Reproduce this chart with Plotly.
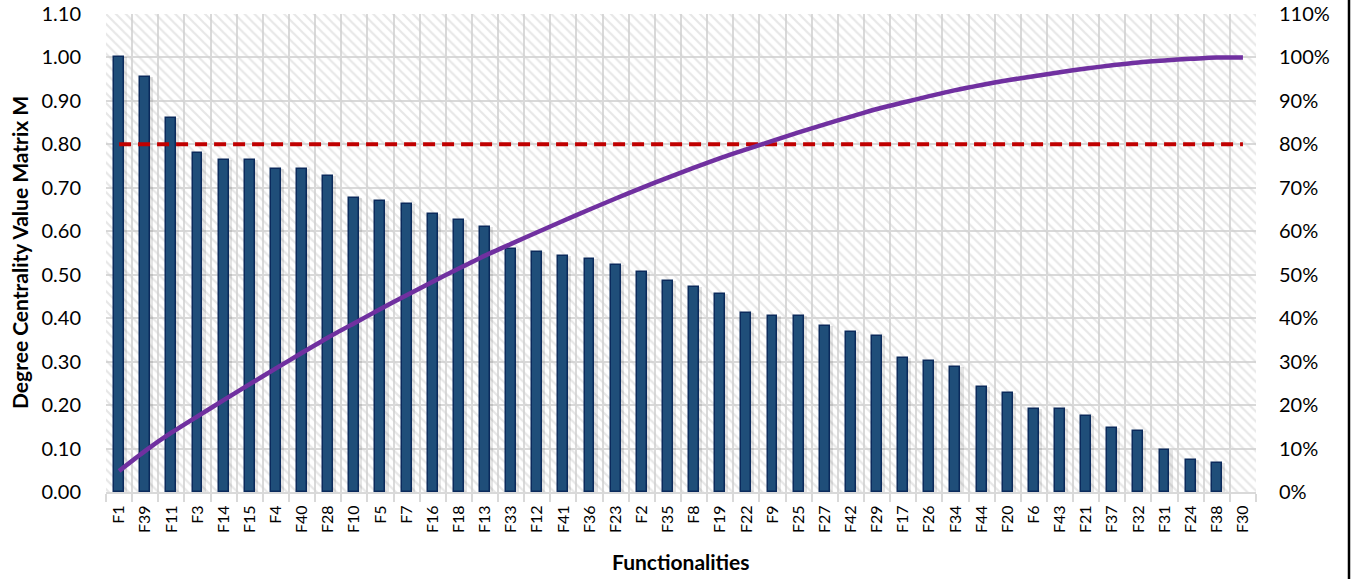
import plotly.graph_objects as go

categories = ["F1", "F39", "F11", "F3", "F14", "F15", "F4", "F40", "F28", "F10", "F5", "F7",
              "F16", "F18", "F13", "F33", "F12", "F41", "F36", "F23", "F2", "F35", "F8", "F19",
              "F22", "F9", "F25", "F27", "F42", "F29", "F17", "F26", "F34", "F44", "F20", "F6",
              "F43", "F21", "F37", "F32", "F31", "F24", "F38", "F30"]

centrality = [1.000, 0.955, 0.860, 0.780, 0.765, 0.765, 0.743, 0.743, 0.728, 0.676, 0.669, 0.662,
              0.640, 0.625, 0.610, 0.559, 0.552, 0.544, 0.537, 0.522, 0.507, 0.485, 0.471, 0.456,
              0.412, 0.404, 0.404, 0.382, 0.368, 0.360, 0.309, 0.301, 0.287, 0.242, 0.228, 0.191,
              0.191, 0.176, 0.147, 0.140, 0.096, 0.074, 0.066, 0.000]

cumulative_pct = [0.0485, 0.0948, 0.1364, 0.1742, 0.2113, 0.2484, 0.2844, 0.3204, 0.3557, 0.3885,
                  0.4209, 0.4530, 0.4840, 0.5143, 0.5439, 0.5710, 0.5977, 0.6241, 0.6501, 0.6754,
                  0.7000, 0.7235, 0.7463, 0.7684, 0.7884, 0.8080, 0.8276, 0.8461, 0.8639, 0.8814,
                  0.8963, 0.9109, 0.9248, 0.9366, 0.9476, 0.9569, 0.9661, 0.9747, 0.9818, 0.9886,
                  0.9932, 0.9968, 1.0000, 1.0000]

threshold = 0.80
y_ticks = [0.0, 0.1, 0.2, 0.3, 0.4, 0.5, 0.6, 0.7, 0.8, 0.9, 1.0, 1.1]

FONT = "Lato"
GRID = "#d9d9d9"

W, H = 1356, 579
ML, MR, MT, MB = 106, 100, 14, 87
PW, PH = W - ML - MR, H - MT - MB

fig = go.Figure()

# hatched plot-area background (transparent between the stripes so gridlines show)
fig.add_trace(go.Bar(
    x=[categories[0]], y=[y_ticks[-1]], width=[len(categories)], offset=-0.5,
    marker=dict(color="rgba(0,0,0,0)", line=dict(width=0),
                pattern=dict(shape="\\", size=7, solidity=0.32, fgcolor="#d0d0d0",
                             bgcolor="rgba(0,0,0,0)", fillmode="overlay")),
    hoverinfo="skip", showlegend=False,
))

# soft bar shadow
fig.add_trace(go.Bar(
    x=categories, y=centrality, width=0.5, offset=-0.19,
    marker=dict(color="rgba(0,0,0,0.10)", line=dict(width=0)),
    hoverinfo="skip", showlegend=False,
))

fig.add_trace(go.Bar(
    x=categories, y=centrality, width=0.38,
    marker=dict(color="#1f4e79",
                line=dict(color="#0b2a5c", width=[1.5 if v > 0 else 0 for v in centrality])),
    name="Degree centrality", showlegend=False,
))

fig.add_trace(go.Scatter(
    x=[categories[0], categories[-1]], y=[threshold, threshold], mode="lines",
    line=dict(color="#c00000", width=4, dash="12px,7px"),
    showlegend=False, hoverinfo="skip",
))

fig.add_trace(go.Scatter(
    x=categories, y=cumulative_pct, mode="lines", yaxis="y2",
    line=dict(color="#7030a0", width=4.5, shape="spline", smoothing=0.6),
    showlegend=False, name="Cumulative %",
))

fig.update_layout(
    width=W, height=H,
    margin=dict(l=ML, r=MR, t=MT, b=MB),
    paper_bgcolor="white", plot_bgcolor="white",
    barmode="overlay", bargap=0,
    font=dict(family=FONT, color="black"),
    xaxis=dict(
        type="category", categoryorder="array", categoryarray=categories,
        tickson="boundaries", ticks="outside", ticklen=8, tickcolor=GRID, tickwidth=2,
        showgrid=True, gridcolor=GRID, gridwidth=2,
        showline=True, linecolor=GRID, linewidth=2,
        tickangle=-90, tickfont=dict(size=16, family=FONT), ticklabelstandoff=5,
        range=[-0.5, len(categories) - 0.5], automargin=False,
    ),
    yaxis=dict(
        range=[0, 1.1], tickvals=y_ticks, tickformat=".2f",
        showgrid=True, gridcolor=GRID, gridwidth=2, zeroline=False,
        tickfont=dict(size=20, family=FONT), ticklabelstandoff=24, automargin=False,
        ticklabeloverflow="allow",
    ),
    yaxis2=dict(
        overlaying="y", side="right", range=[0, 1.1], tickvals=y_ticks, tickformat=".0%",
        showgrid=False, zeroline=False, tickfont=dict(size=20, family=FONT),
        ticklabelstandoff=22, automargin=False, ticklabeloverflow="allow",
    ),
    annotations=[
        dict(text="<b>Degree Centrality Value Matrix M</b>", xref="paper", yref="paper",
             x=(19 - ML) / PW, y=0.5, xanchor="center", yanchor="middle", textangle=-90,
             showarrow=False, font=dict(size=21, family=FONT)),
        dict(text="<b>Functionalities</b>", xref="paper", yref="paper",
             x=0.5, y=(492 - 561) / PH, xanchor="center", yanchor="middle",
             showarrow=False, font=dict(size=21, family=FONT)),
    ],
    shapes=[dict(type="line", xref="paper", yref="paper",
                 x0=(1349 - ML) / PW, x1=(1349 - ML) / PW, y0=-0.25, y1=1.1,
                 line=dict(color="black", width=2.5))],
)

# remove the browser's default 8px body margin so the figure sits at the page origin
fig.write_html("out.html", config={"displayModeBar": False},
               post_script="document.body.style.margin='0px';")
